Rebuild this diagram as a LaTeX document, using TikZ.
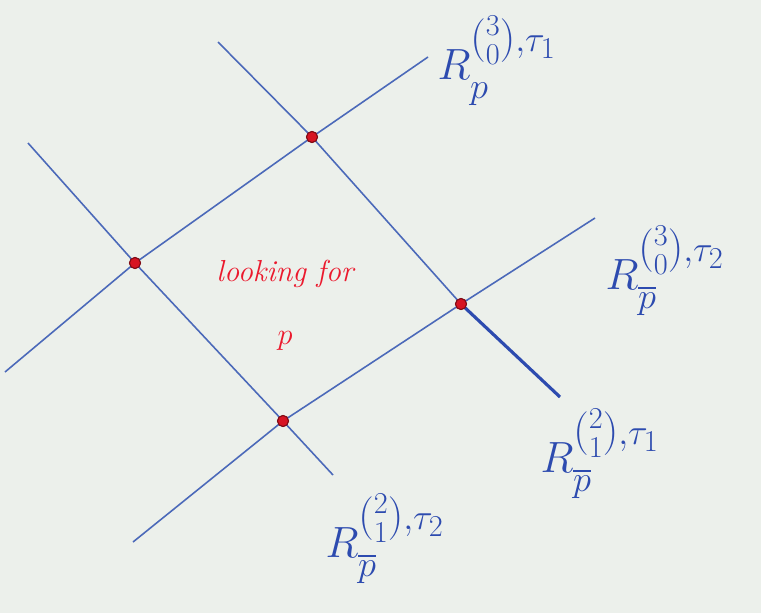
\documentclass[tikz,border=0pt]{standalone}
\usepackage{amsmath}
\definecolor{paperWhite}{RGB}{236, 240, 235}
\definecolor{penBlue}{RGB}{45, 75, 175}
\definecolor{lineBlue}{RGB}{75, 105, 185}
\definecolor{penRed}{RGB}{235, 25, 45}
\definecolor{dotRed}{RGB}{215, 20, 35}
\usetikzlibrary{positioning}

\begin{document}
\begin{tikzpicture}[
    x=0.02cm, y=-0.02cm,
    wire/.style={lineBlue, line width=0.9pt},
    dot/.style={circle, fill=dotRed, draw=dotRed!60!black, line width=0.6pt,
                inner sep=0pt, minimum size=0.22cm},
    region/.style={text=penBlue, font=\Huge, inner sep=0pt},
    note/.style={text=penRed, font=\LARGE\itshape, align=center}
  ]
    % Paper
    \fill[paperWhite] (0,0) rectangle (761,613);
    \useasboundingbox (0,0) rectangle (761,613);

    % Intersection points
    \node[dot] (left) at (135, 263) {};
    \node[dot] (top) at (312, 137) {};
    \node[dot] (right) at (461, 304) {};
    \node[dot] (bottom) at (283, 421) {};

    % Line ends
    \coordinate (aStart) at (5, 372);
    \coordinate (aEnd) at (428, 57);
    \coordinate (bStart) at (133, 542);
    \coordinate (bEnd) at (595, 218);
    \coordinate (cStart) at (28, 143);
    \coordinate (cEnd) at (333, 475);
    \coordinate (dStart) at (218, 42);
    \coordinate (dEnd) at (560, 397);

    % Lines
    \draw[wire] (aStart) -- (left.center) -- (top.center) -- (aEnd);
    \draw[wire] (bStart) -- (bottom.center) -- (right.center) -- (bEnd);
    \draw[wire] (cStart) -- (left.center) -- (bottom.center) -- (cEnd);
    \draw[wire] (dStart) -- (top.center) -- (right.center);
    \draw[wire, line width=1.8pt, penBlue] (right.center) -- (dEnd);

    % Redraw points on top
    \foreach \p in {left, top, right, bottom}
      \node[dot] at (\p) {};

    % Labels
    \node[region] (topLabel) at (497, 62) {$R_{\mathstrut p}^{\binom{3}{0},\tau_1}$};
    \node[region] (rightLabel) at (665, 272) {$R_{\mathstrut\overline{p}}^{\binom{3}{0},\tau_2}$};
    \node[region] (rightLowLabel) at (600, 455) {$R_{\mathstrut\overline{p}}^{\binom{2}{1},\tau_1}$};
    \node[region] (lowLabel) at (385, 540) {$R_{\mathstrut\overline{p}}^{\binom{2}{1},\tau_2}$};

    % Centre text
    \node[note] (goal) at (285, 305) {looking for\\[14pt] $p$};
  \end{tikzpicture}
\end{document}
